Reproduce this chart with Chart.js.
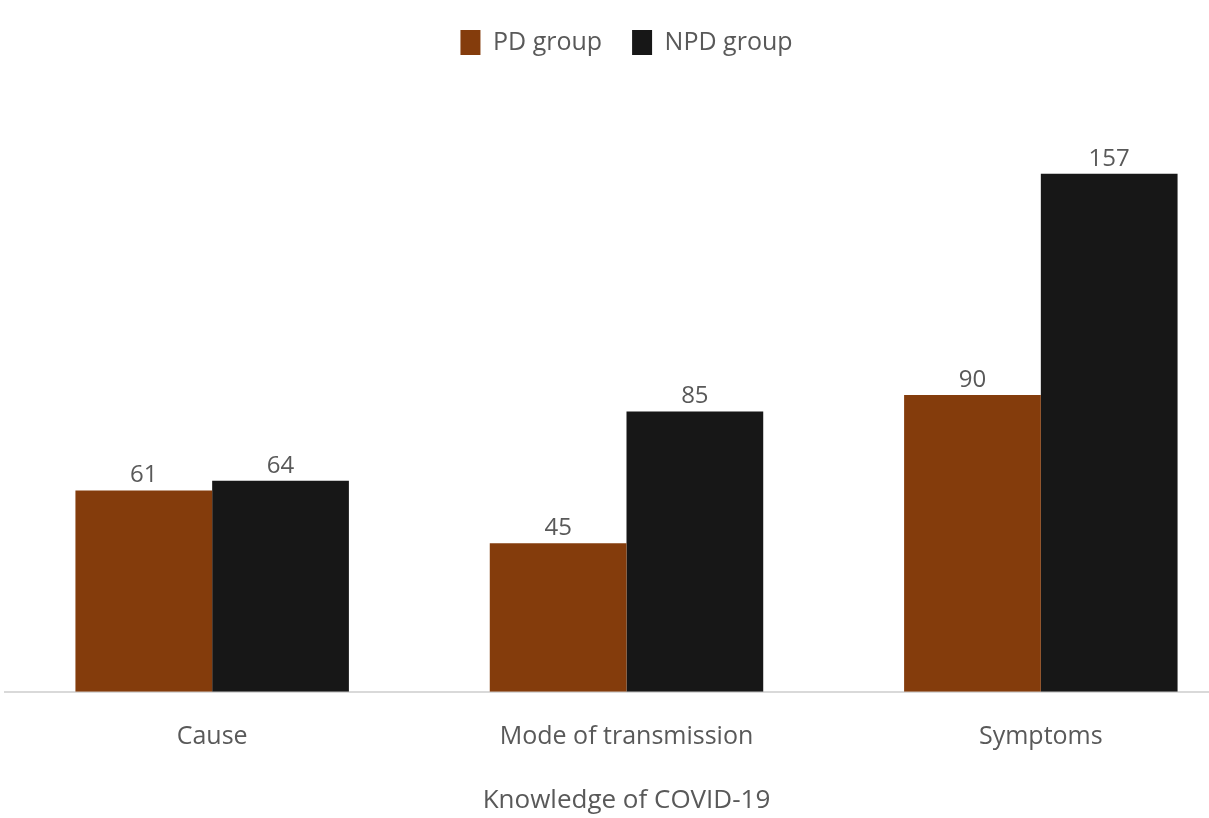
<!DOCTYPE html>
<html>
<head>
<meta charset="utf-8">
<script src="https://cdn.jsdelivr.net/npm/chart.js@4.4.1/dist/chart.umd.min.js"></script>
<style>
  html, body { margin: 0; padding: 0; background: #fff; overflow: hidden; }
  .wrap { position: relative; width: 1250px; height: 818px; }
</style>
</head>
<body>
<div class="wrap"><canvas id="chart"></canvas></div>
<script>
// data
let categories = ["Cause", "Mode of transmission", "Symptoms"];
let pdGroup = [61, 45, 90];
let npdGroup = [64, 85, 157];

let textColor = "#595959";
let fontName = "'Open Sans', 'Noto Sans', sans-serif";

//draws the value above each bar
let valueLabels = {
  id: "valueLabels",
  afterDatasetsDraw(chart) {
    let ctx = chart.ctx;
    ctx.save();
    ctx.fillStyle = textColor;
    ctx.font = "24px " + fontName;
    ctx.textAlign = "center";
    ctx.textBaseline = "bottom";
    chart.data.datasets.forEach((ds, i) => {
      chart.getDatasetMeta(i).data.forEach((bar, j) => {
        ctx.fillText(ds.data[j], bar.x, bar.y - 3);
      });
    });
    ctx.restore();
  },
};

let myChart = new Chart(document.getElementById("chart"), {
  type: "bar",
  data: {
    labels: categories,
    datasets: [
      {
        label: "PD group",
        data: pdGroup,
        backgroundColor: "#843c0c",
        categoryPercentage: 0.66,
        barPercentage: 1,
      },
      {
        label: "NPD group",
        data: npdGroup,
        backgroundColor: "#171717",
        categoryPercentage: 0.66,
        barPercentage: 1,
      },
    ],
  },
  plugins: [valueLabels],
  options: {
    responsive: true,
    maintainAspectRatio: false,
    animation: false,
    layout: { padding: { left: 5, right: 2, top: 0, bottom: 0 } },
    plugins: {
      tooltip: { enabled: false },
      legend: {
        position: "top",
        labels: {
          color: textColor,
          font: { size: 25, family: fontName },
          boxWidth: 20,
          boxHeight: 25,
          padding: 30,
        },
      },
    },
    scales: {
      x: {
        grid: { display: false, drawTicks: false },
        border: { color: "#d9d9d9", width: 2 },
        ticks: {
          color: textColor,
          font: { size: 25, family: fontName },
          padding: 30,
        },
        title: {
          display: true,
          text: "Knowledge of COVID-19",
          color: textColor,
          font: { size: 26, family: fontName },
          padding: { top: 3, bottom: 2 },
        },
      },
      y: {
        display: false,
        min: 0,
        max: 190,
      },
    },
  },
});
</script>
</body>
</html>
